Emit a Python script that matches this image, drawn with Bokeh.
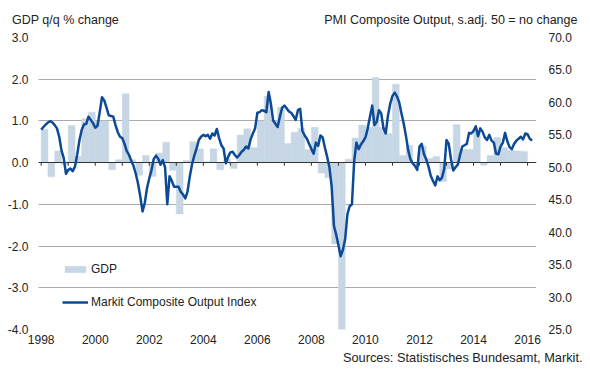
from bokeh.plotting import figure
from bokeh.models import (Range1d, LinearAxis, FixedTicker, Legend,
                          LegendItem, NumeralTickFormatter)
from bokeh.embed import file_html
from bokeh.resources import INLINE

# ---------------- data ----------------
gdp_start_year = 1998
# GDP q/q % change, quarterly 1998Q1 .. 2015Q4
gdp = [
    0.80, -0.34, 0.28, -0.05,   # 1998
    0.89, 0.15, 1.05, 1.21,     # 1999
    1.00, 1.00, -0.17, 0.07,    # 2000
    1.65, 0.07, -0.30, 0.17,    # 2001
    -0.33, 0.23, 0.49, -0.18,   # 2002
    -1.23, 0.05, 0.50, 0.33,    # 2003
    0.02, 0.33, -0.17, 0.08,    # 2004
    -0.14, 0.66, 0.81, 0.36,    # 2005
    1.00, 1.59, 1.00, 1.33,     # 2006
    0.46, 0.73, 0.82, 0.31,     # 2007
    0.85, -0.25, -0.36, -1.95,  # 2008
    -4.00, 0.08, 0.59, 0.90,    # 2009
    0.85, 2.04, 0.85, 0.70,     # 2010
    1.88, 0.17, 0.41, -0.05,    # 2011
    0.40, 0.10, 0.15, -0.45,    # 2012
    -0.15, 0.91, 0.32, 0.32,    # 2013
    0.75, -0.06, 0.17, 0.60,    # 2014
    0.36, 0.30, 0.28, 0.27,     # 2015
]
# Markit Composite Output Index, monthly Jan 1998 .. Mar 2016
pmi = [
    55.8, 56.2, 56.6, 56.9, 57.1, 56.9, 56.5, 56.0, 54.7, 52.6, 51.4, 49.0,  # 1998
    49.6, 49.8, 49.4, 50.1, 52.0, 54.2, 55.8, 56.6, 56.7, 57.8, 57.3, 56.8,  # 1999
    56.1, 56.4, 58.5, 60.8, 60.3, 59.2, 58.0, 57.9, 57.8, 56.5, 55.4, 54.7,  # 2000
    54.5, 53.6, 52.5, 51.9, 51.0, 50.2, 49.0, 47.5, 45.5, 43.2, 44.5, 46.8,  # 2001
    48.3, 49.6, 51.3, 51.8, 51.3, 50.4, 51.1, 50.0, 44.3, 48.6, 47.9, 47.0,  # 2002
    47.0, 47.0, 46.2, 45.8, 45.2, 46.3, 48.6, 50.5, 51.8, 52.9, 54.2, 54.7,  # 2003
    55.0, 54.8, 55.0, 54.4, 55.2, 54.9, 55.9, 54.5, 53.4, 52.9, 50.6, 51.6,  # 2004
    52.3, 52.4, 51.9, 51.5, 51.9, 52.4, 52.7, 53.2, 52.9, 54.3, 55.2, 56.0,  # 2005
    58.4, 58.5, 58.8, 58.7, 58.5, 61.6, 59.8, 57.2, 56.7, 56.2, 57.8, 59.2,  # 2006
    59.5, 59.1, 58.6, 58.4, 57.9, 57.3, 58.8, 59.0, 55.6, 54.9, 54.4, 53.6,  # 2007
    52.8, 52.1, 53.8, 53.3, 54.9, 54.6, 53.0, 51.6, 50.0, 47.0, 41.0, 39.6,  # 2008
    38.0, 36.3, 37.3, 39.0, 42.8, 44.0, 44.3, 51.0, 53.8, 52.8, 53.5, 54.0,  # 2009
    54.6, 56.0, 57.8, 59.5, 56.5, 57.0, 58.8, 58.3, 56.0, 55.2, 58.0, 59.8,  # 2010
    61.0, 61.5, 60.9, 60.0, 58.3, 56.7, 54.8, 52.6, 51.2, 50.6, 50.2, 49.6,  # 2011
    53.2, 53.6, 52.0, 51.2, 50.1, 48.7, 47.9, 47.2, 48.6, 48.0, 48.4, 49.8,  # 2012
    54.2, 53.6, 51.2, 49.5, 50.0, 50.4, 51.9, 53.2, 53.4, 53.6, 55.3, 55.2,  # 2013
    55.6, 56.3, 54.8, 56.0, 55.5, 54.6, 54.2, 55.0, 54.1, 53.8, 52.1, 52.0,  # 2014
    53.2, 53.8, 55.3, 54.0, 53.1, 52.8, 53.6, 54.1, 54.4, 54.7, 54.3, 55.2,  # 2015
    55.1, 54.4, 54.1,                                                        # 2016
]
x_tick_labels = ["1998", "2000", "2002", "2004", "2006", "2008",
                 "2010", "2012", "2014", "2016"]
gdp_ticks = [-4, -3, -2, -1, 0, 1, 2, 3]
pmi_ticks = [25, 30, 35, 40, 45, 50, 55, 60, 65, 70]
year_marks = list(range(1998, 2017))
left_title = "GDP q/q % change"
right_title = "PMI Composite Output, s.adj. 50 = no change"
source_note = "Sources: Statistisches Bundesamt, Markit."

# ---------------- derived x positions ----------------
bar_x = [gdp_start_year + i * 0.25 + 0.125 for i in range(len(gdp))]
pmi_x = [gdp_start_year + i / 12.0 for i in range(len(pmi))]

FONT = "Liberation Sans"
TXT = "#222222"
BAR_COLOR = "#c6d6e4"
LINE_COLOR = "#0c4a96"


def style_axis(ax, standoff, size="12px"):
    ax.axis_line_color = None
    ax.major_tick_line_color = None
    ax.minor_tick_line_color = None
    ax.major_tick_in = 0
    ax.major_tick_out = 0
    ax.minor_tick_in = 0
    ax.minor_tick_out = 0
    ax.major_label_standoff = standoff
    ax.major_label_text_font = FONT
    ax.major_label_text_font_size = size
    ax.major_label_text_color = TXT


p = figure(width=590, height=371, output_backend="svg", toolbar_location=None,
           x_range=Range1d(1997.9, 2016.33), y_range=Range1d(-4, 3),
           min_border_left=38, min_border_right=54, min_border_top=37,
           min_border_bottom=42)
p.outline_line_color = None
p.background_fill_color = "white"
p.border_fill_color = "white"
p.extra_y_ranges = {"pmi": Range1d(25, 70)}

# grid
p.xgrid.visible = False
p.ygrid.ticker = FixedTicker(ticks=gdp_ticks)
p.ygrid.grid_line_color = "#555555"
p.ygrid.grid_line_dash = "1 1"
p.ygrid.grid_line_width = 1

# left axis
ya = p.yaxis[0]
ya.ticker = FixedTicker(ticks=gdp_ticks)
ya.formatter = NumeralTickFormatter(format="0.0")
style_axis(ya, 10)

# right axis
ra = LinearAxis(y_range_name="pmi", ticker=FixedTicker(ticks=pmi_ticks),
                formatter=NumeralTickFormatter(format="0.0"))
style_axis(ra, 12)
p.add_layout(ra, "right")

# bottom axis (years)
xa = p.xaxis[0]
xa.ticker = FixedTicker(ticks=[int(t) for t in x_tick_labels])
xa.major_label_overrides = {int(t): t for t in x_tick_labels}
style_axis(xa, 5)

# top texts carried by an axis above the frame
title_pos = [1998.9, 2013.16]
ta = LinearAxis(ticker=FixedTicker(ticks=title_pos),
                major_label_overrides={title_pos[0]: left_title,
                                       title_pos[1]: right_title})
style_axis(ta, 11, "12.5px")
p.add_layout(ta, "above")

# source note carried by a second axis below
note_pos = [2013.6]
na = LinearAxis(ticker=FixedTicker(ticks=note_pos),
                major_label_overrides={note_pos[0]: source_note})
style_axis(na, 3, "12.8px")
p.add_layout(na, "below")

# bars
bars = p.vbar(x=bar_x, width=0.25, top=gdp, bottom=0, fill_color=BAR_COLOR,
              line_color=BAR_COLOR, line_width=0.5)
# zero line with year tick marks
p.hspan(y=[gdp_ticks[4]], line_color="#333333", line_width=1)
p.segment(x0=year_marks, x1=year_marks, y0=[0] * len(year_marks),
          y1=[-0.075] * len(year_marks), line_color="#333333", line_width=1)
# PMI line
ln = p.line(x=pmi_x, y=pmi, y_range_name="pmi", line_color=LINE_COLOR,
            line_width=2.5, line_join="round")

legend = Legend(items=[LegendItem(label="GDP", renderers=[bars]),
                       LegendItem(label="Markit Composite Output Index", renderers=[ln])],
                location=(24, 20), orientation="vertical",
                glyph_width=26, glyph_height=8, label_height=14,
                label_standoff=3, spacing=19, padding=0, margin=0,
                background_fill_alpha=0, border_line_color=None,
                label_text_font=FONT, label_text_font_size="12px",
                label_text_color=TXT)
p.add_layout(legend)

open("out.html", "w").write(file_html(p, INLINE))
